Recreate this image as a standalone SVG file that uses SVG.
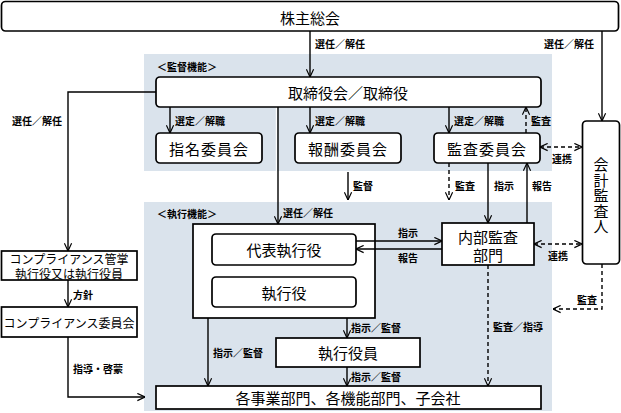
<svg xmlns="http://www.w3.org/2000/svg" width="621" height="413" viewBox="0 0 621 413">
<defs>
<marker id="arr" viewBox="0 0 10 10" refX="9.5" refY="5" markerWidth="9" markerHeight="9" markerUnits="userSpaceOnUse" orient="auto-start-reverse">
<path d="M1,1 L9.5,5 L1,9" fill="none" stroke="#000" stroke-width="1.3"/>
</marker>
<style>
text{font-family:"Noto Sans CJK JP","Noto Sans",sans-serif;fill:#000;dominant-baseline:central}
.n{font-size:15px;text-anchor:middle}
.s{font-size:12px;text-anchor:middle}
.l{font-size:10px;font-weight:bold}
.bg{fill:#dae3ec}
.box{fill:#fff;stroke:#000;stroke-width:1.7}
.c line,.c path{fill:none;stroke:#000;stroke-width:1.4}
.c .d{stroke-dasharray:4,3}
.c .a{marker-end:url(#arr)}
.c .b{marker-start:url(#arr);marker-end:url(#arr)}
</style>
</defs>
<rect width="621" height="413" fill="#fff"/>
<g id="area-supervision">
<rect class="bg" x="144" y="54" width="408" height="117"/>
<rect x="275.8" y="107" width="1.2" height="64" fill="#fff"/>
<text class="l" x="157" y="66">＜監督機能＞</text>
</g>
<g id="area-execution">
<rect class="bg" x="144" y="202" width="408" height="209"/>
<text class="l" x="157" y="213">＜執行機能＞</text>
</g>
<g id="shareholders">
<rect class="box" x="1.5" y="1.5" width="617" height="29.5" rx="4"/>
<text class="n" x="310" y="17">株主総会</text>
</g>
<g id="board">
<rect class="box" x="156" y="77" width="385" height="30" rx="4"/>
<text class="n" x="348" y="92">取締役会／取締役</text>
</g>
<g id="nomination">
<rect class="box" x="156" y="133" width="106" height="30" rx="4"/>
<text class="n" x="209" y="148" letter-spacing="1">指名委員会</text>
</g>
<g id="compensation">
<rect class="box" x="295" y="133" width="106" height="30" rx="4"/>
<text class="n" x="348" y="148" letter-spacing="1">報酬委員会</text>
</g>
<g id="audit-committee">
<rect class="box" x="434" y="133" width="106" height="30" rx="4"/>
<text class="n" x="487" y="148" letter-spacing="1">監査委員会</text>
</g>
<g id="auditor">
<rect class="box" x="582.5" y="121" width="37" height="143" rx="4"/>
<text class="n" x="601" y="196" style="writing-mode:vertical-rl" letter-spacing="0.5">会計監査人</text>
</g>
<g id="executive-officers">
<rect class="box" x="193" y="224" width="182" height="94"/>
</g>
<g id="ceo">
<rect class="box" x="212" y="234" width="144" height="31" rx="4"/>
<text class="n" x="284" y="249.5">代表執行役</text>
</g>
<g id="officers">
<rect class="box" x="212" y="277" width="144" height="30" rx="4"/>
<text class="n" x="284" y="292">執行役</text>
</g>
<g id="internal-audit">
<rect class="box" x="442" y="223" width="92" height="42"/>
<text class="n" x="488" y="236.5">内部監査<tspan x="488" dy="17.5">部門</tspan></text>
</g>
<g id="exec-staff">
<rect class="box" x="276" y="338" width="144" height="29"/>
<text class="n" x="348" y="352.5">執行役員</text>
</g>
<g id="divisions">
<rect class="box" x="156" y="386" width="385" height="23"/>
<text class="n" x="348" y="397.5">各事業部門、各機能部門、子会社</text>
</g>
<g id="compliance-officer">
<rect class="box" x="1.5" y="251" width="135.5" height="29"/>
<text class="s" x="69" y="258.5">コンプライアンス管掌<tspan x="69" dy="14.5">執行役又は執行役員</tspan></text>
</g>
<g id="compliance-committee">
<rect class="box" x="1.5" y="307" width="135.5" height="30"/>
<text class="s" x="69" y="322">コンプライアンス委員会</text>
</g>
<g id="connectors" class="c">
<line class="a" x1="310" y1="31" x2="310" y2="77"/>
<text class="l" x="315" y="43">選任／解任</text>
<line class="a" x1="602" y1="31" x2="602" y2="121"/>
<text class="l" x="544" y="43">選任／解任</text>
<line class="a" x1="170" y1="107" x2="170" y2="133"/>
<text class="l" x="175" y="120">選定／解職</text>
<line class="a" x1="310" y1="107" x2="310" y2="133"/>
<text class="l" x="315" y="120">選定／解職</text>
<line class="a" x1="449" y1="107" x2="449" y2="133"/>
<text class="l" x="454" y="120">選定／解職</text>
<line class="a d" x1="526" y1="133" x2="526" y2="107"/>
<text class="l" x="531" y="120">監査</text>
<line class="b d" x1="540" y1="147" x2="582" y2="147"/>
<text class="l" x="552" y="158">連携</text>
<line class="a" x1="348" y1="172" x2="348" y2="200"/>
<text class="l" x="353" y="185">監督</text>
<line class="a d" x1="449" y1="163" x2="449" y2="200"/>
<text class="l" x="455" y="185">監査</text>
<line class="a" x1="488" y1="163" x2="488" y2="223"/>
<text class="l" x="494" y="185">指示</text>
<line class="a" x1="527" y1="223" x2="527" y2="163"/>
<text class="l" x="532" y="185">報告</text>
<line class="a" x1="278" y1="107" x2="278" y2="224"/>
<text class="l" x="283" y="212">選任／解任</text>
<line class="a" x1="356" y1="241" x2="442" y2="241"/>
<text class="l" x="398" y="232">指示</text>
<line class="a" x1="442" y1="249" x2="356" y2="249"/>
<text class="l" x="398" y="257">報告</text>
<line class="b d" x1="534" y1="244" x2="582" y2="244"/>
<text class="l" x="548" y="255">連携</text>
<path class="a d" d="M602,264 V309 H553"/>
<text class="l" x="577" y="299">監査</text>
<line class="a d" x1="488" y1="265" x2="488" y2="386"/>
<text class="l" x="493" y="326">監査／指導</text>
<line class="a" x1="347" y1="318" x2="347" y2="338"/>
<text class="l" x="351" y="327">指示／監督</text>
<line class="a" x1="347" y1="367" x2="347" y2="386"/>
<text class="l" x="351" y="376">指示／監督</text>
<line class="a" x1="208" y1="318" x2="208" y2="386"/>
<text class="l" x="213" y="352">指示／監督</text>
<path class="a" d="M156,92 H68 V251"/>
<text class="l" x="12" y="120">選任／解任</text>
<line class="a" x1="68" y1="280" x2="68" y2="307"/>
<text class="l" x="73" y="294">方針</text>
<path class="a" d="M68,337 V397 H145"/>
<text class="l" x="73" y="368">指導・啓蒙</text>
</g>
</svg>
